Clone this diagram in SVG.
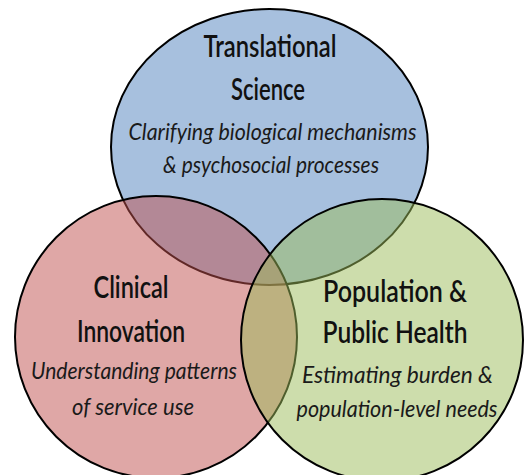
<svg xmlns="http://www.w3.org/2000/svg" width="525" height="475" viewBox="0 0 525 475">
<style>
.c{stroke:#000;stroke-width:2;fill-opacity:0.5}
.t{font-family:Lato,"Open Sans","DejaVu Sans",sans-serif;font-size:30px;font-weight:600;fill:#111;text-anchor:middle}
.s{font-family:Lato,"Open Sans","DejaVu Sans",sans-serif;font-size:24px;font-style:italic;fill:#1a1a1a;text-anchor:middle}
</style>
<rect width="525" height="475" fill="#fff"/>
<g id="translational-science">
<ellipse class="c" cx="269.5" cy="147" rx="158.5" ry="138" fill="#4F81BD"/>
<text class="t" x="270" y="57" textLength="133" lengthAdjust="spacingAndGlyphs">Translational</text>
<text class="t" x="268" y="100" textLength="74" lengthAdjust="spacingAndGlyphs">Science</text>
<text class="s" x="272.5" y="140" textLength="288" lengthAdjust="spacingAndGlyphs">Clarifying biological mechanisms</text>
<text class="s" x="271" y="173" textLength="216" lengthAdjust="spacingAndGlyphs">&amp; psychosocial processes</text>
</g>
<g id="clinical-innovation">
<circle class="c" cx="156" cy="337" r="141" fill="#C0504D"/>
<text class="t" x="131" y="298" textLength="75" lengthAdjust="spacingAndGlyphs">Clinical</text>
<text class="t" x="131" y="342" textLength="108" lengthAdjust="spacingAndGlyphs">Innovation</text>
<text class="s" x="134" y="379" textLength="206" lengthAdjust="spacingAndGlyphs">Understanding patterns</text>
<text class="s" x="133" y="415" textLength="122" lengthAdjust="spacingAndGlyphs">of service use</text>
</g>
<g id="population-public-health">
<circle class="c" cx="382" cy="340" r="141" fill="#9BBB59"/>
<text class="t" x="395" y="302" textLength="144" lengthAdjust="spacingAndGlyphs">Population &amp;</text>
<text class="t" x="395" y="343" textLength="145" lengthAdjust="spacingAndGlyphs">Public Health</text>
<text class="s" x="397.5" y="383" textLength="191" lengthAdjust="spacingAndGlyphs">Estimating burden &amp;</text>
<text class="s" x="397" y="417" textLength="201" lengthAdjust="spacingAndGlyphs">population-level needs</text>
</g>
</svg>
